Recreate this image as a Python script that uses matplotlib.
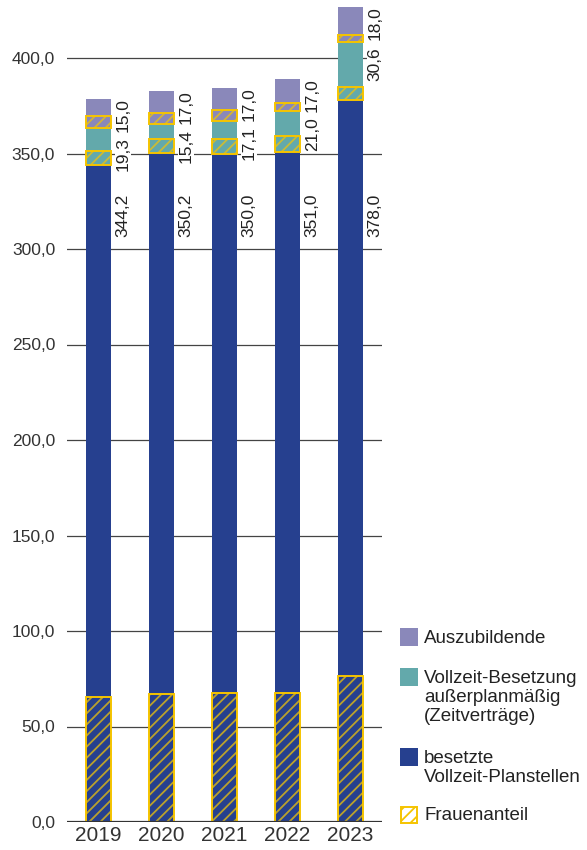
import numpy as np
import matplotlib
matplotlib.use('Agg')
import matplotlib.pyplot as plt
from matplotlib.patches import Rectangle
#-------------------------------------------------------------------------------
# DATA
#-------------------------------------------------------------------------------
years = ['2019', '2020', '2021', '2022', '2023']
planstellen = [344.2, 350.2, 350.0, 351.0, 378.0]
ausserplan = [19.3, 15.4, 17.1, 21.0, 30.6]
azubi = [15.0, 17.0, 17.0, 17.0, 18.0]
# Frauenanteil je Segment (aus Grafik geschaetzt)
frauen_plan = [65.3, 67.0, 67.3, 67.8, 76.4]
frauen_ausser = [7.0, 7.2, 7.6, 8.0, 6.9]
frauen_azubi = [6.3, 5.4, 5.7, 4.4, 3.5]
yticks = [0, 50, 100, 150, 200, 250, 300, 350, 400]

c_plan = '#26408f'
c_ausser = '#63a9ab'
c_azubi = '#8a88ba'
c_yellow = '#f5c400'
c_hatch = (0.93, 0.76, 0.05, 0.75)

plt.rcParams['font.family'] = ['Liberation Sans', 'DejaVu Sans']
plt.rcParams['hatch.linewidth'] = 1.3

def fmt(v):
    return ('%.1f' % v).replace('.', ',')
#-------------------------------------------------------------------------------
# PLOT
#-------------------------------------------------------------------------------
fig = plt.figure(figsize=(5.87, 8.5), dpi=100)
ax = fig.add_axes([67/587, 28/850, 315/587, 821.3/850])
x = np.arange(len(years))
w = 0.41
plan = np.array(planstellen)
ausser = np.array(ausserplan)
az = np.array(azubi)

for yv in yticks[1:]:
    ax.axhline(yv, color='#444444', lw=0.9, zorder=0)
ax.axhline(0, color='#333333', lw=1.6, zorder=4)

ax.bar(x, plan, w, color=c_plan, zorder=2)
ax.bar(x, ausser, w, bottom=plan, color=c_ausser, zorder=2)
ax.bar(x, az, w, bottom=plan + ausser, color=c_azubi, zorder=2)

# Frauenanteil: schraffiert ueber jedem Segment
bottoms = [np.zeros(len(years)), plan, plan + ausser]
for fr, bt in zip([frauen_plan, frauen_ausser, frauen_azubi], bottoms):
    ax.bar(x, fr, w, bottom=bt, color='none', edgecolor=c_hatch, hatch='///', lw=0, zorder=3)
    ax.bar(x, fr, w, bottom=bt, color='none', edgecolor=c_yellow, lw=1.4, zorder=3)

ax.set_xlim(-0.5, 4.5)
ax.set_ylim(0, 430)

# Werte-Beschriftung
tb = dict(facecolor='white', edgecolor='none', pad=0.3)
lblkw = dict(rotation=90, ha='left', va='top', fontsize=12.5, color='#222222', bbox=tb, zorder=5)
fig.canvas.draw()
rend = fig.canvas.get_renderer()
for i in range(len(years)):
    xl = x[i] + w/2 + 0.07
    ax.text(xl, 329, fmt(planstellen[i]), **lblkw)
    t = ax.text(xl, plan[i] + ausser[i] + az[i] + 0.5, fmt(azubi[i]), **lblkw)
    bb = t.get_window_extent(rend).transformed(ax.transData.inverted())
    ytop = min(plan[i] + ausser[i] - 3, bb.y0 - 2.5)
    ax.text(xl, ytop, fmt(ausserplan[i]), **lblkw)

ax.set_yticks(yticks)
ax.set_yticklabels([fmt(v) for v in yticks], fontsize=12.5, color='#333333')
ax.set_xticks(x)
ax.set_xticklabels(years, fontsize=15, color='#333333')
ax.tick_params(axis='y', length=0, pad=8.5)
ax.tick_params(axis='x', length=0, pad=3)
for s in ax.spines.values():
    s.set_visible(False)

#-------------------------------------------------------------------------------
# LEGEND
#-------------------------------------------------------------------------------
leg = [(c_azubi, 628, 'Auszubildende'),
       (c_ausser, 668, 'Vollzeit-Besetzung\naußerplanmäßig\n(Zeitverträge)'),
       (c_plan, 748, 'besetzte\nVollzeit-Planstellen')]
for col, ytop, lab in leg:
    fig.patches.append(Rectangle((400/587, 1 - (ytop + 18)/850), 18/587, 18/850, transform=fig.transFigure, facecolor=col, edgecolor='none'))
    fig.text(424/587, 1 - (ytop + 2)/850, lab, ha='left', va='top', fontsize=13.5, color='#222222', linespacing=1.17)
fig.patches.append(Rectangle((401/587, 1 - 823/850), 16/587, 16/850, transform=fig.transFigure, facecolor='white', edgecolor=c_yellow, hatch='///', lw=1.4))
fig.text(424/587, 1 - 815/850, 'Frauenanteil', ha='left', va='center', fontsize=13.5, color='#222222')

plt.savefig('out.png', dpi=100)
